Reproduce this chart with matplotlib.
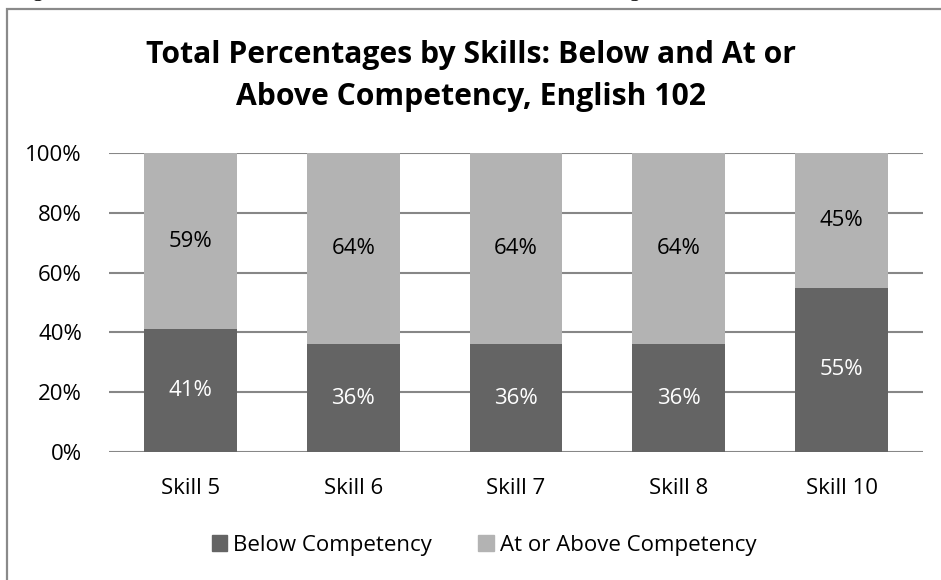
import matplotlib

matplotlib.use("Agg")
import matplotlib.pyplot as plt
import numpy as np
from matplotlib.patches import Patch, Rectangle

# ============================================================
# Data
# ============================================================
skills = ["Skill 5", "Skill 6", "Skill 7", "Skill 8", "Skill 10"]
below = [41, 36, 36, 36, 55]
at_or_above = [59, 64, 64, 64, 45]
y_ticks = [0, 20, 40, 60, 80, 100]
series_names = ["Below Competency", "At or Above Competency"]
title_lines = ["Total Percentages by Skills: Below and At or", "Above Competency, English 102"]
caption = "Figure 3: Results across all the students in the selected sections of English 102"

DARK = "#646464"
LIGHT = "#b3b3b3"
GRID = "#878787"
FONT_SIZE = 16

plt.rcParams["font.family"] = ["Open Sans", "DejaVu Sans"]

W, H = 941, 580
fig = plt.figure(figsize=(W / 100, H / 100), dpi=100)

# Chart frame (runs off the right and bottom edges of the page)
fig.patches.append(Rectangle((7 / W, -0.2), 1.2, 1.2 - 9 / H, transform=fig.transFigure,
                             fill=False, edgecolor="#8a8a8a", linewidth=1.6))

# Caption line above the chart, mostly cut off by the page edge
fig.text(14 / W, 1 + 4 / H, caption, family="Liberation Serif", fontsize=16,
         va="baseline", ha="left", color="black")

ax = fig.add_axes([109 / W, 1 - 452 / H, 814 / W, 299 / H])
positions = np.arange(len(skills))
bar_width = 0.57
ax.bar(positions, below, width=bar_width, color=DARK, zorder=2)
ax.bar(positions, at_or_above, bottom=below, width=bar_width, color=LIGHT, zorder=2)

for pos, low, high in zip(positions, below, at_or_above):
    ax.text(pos, low / 2, f"{low}%", ha="center", va="center", color="white",
            fontsize=FONT_SIZE, zorder=3)
    ax.text(pos, low + high / 2, f"{high}%", ha="center", va="center", color="black",
            fontsize=FONT_SIZE, zorder=3)

ax.set_xlim(-0.5, len(skills) - 0.5)
ax.set_ylim(0, 100)
ax.set_yticks(y_ticks)
ax.set_yticklabels([f"{t}%" for t in y_ticks], fontsize=FONT_SIZE)
ax.set_xticks(positions)
ax.set_xticklabels(skills, fontsize=FONT_SIZE)
ax.tick_params(axis="both", length=0)
ax.tick_params(axis="y", pad=19.5)
ax.tick_params(axis="x", pad=19)
ax.yaxis.grid(True, color=GRID, linewidth=1.5, zorder=1)
ax.set_axisbelow(True)
for spine in ax.spines.values():
    spine.set_visible(False)

# Two-line bold title, placed by baseline
for line, baseline in zip(title_lines, [63, 105]):
    fig.text(471 / W, 1 - baseline / H, line, ha="center", va="baseline", fontsize=21.7,
             fontweight="bold")

handles = [Patch(color=DARK), Patch(color=LIGHT)]
fig.legend(handles, series_names, loc="center", bbox_to_anchor=(484 / W, 1 - 545 / H),
           ncol=2, frameon=False, fontsize=FONT_SIZE, handlelength=0.7, handleheight=0.7,
           handletextpad=0.25, columnspacing=2.1)

fig.savefig("out.png", dpi=100)
plt.close(fig)
